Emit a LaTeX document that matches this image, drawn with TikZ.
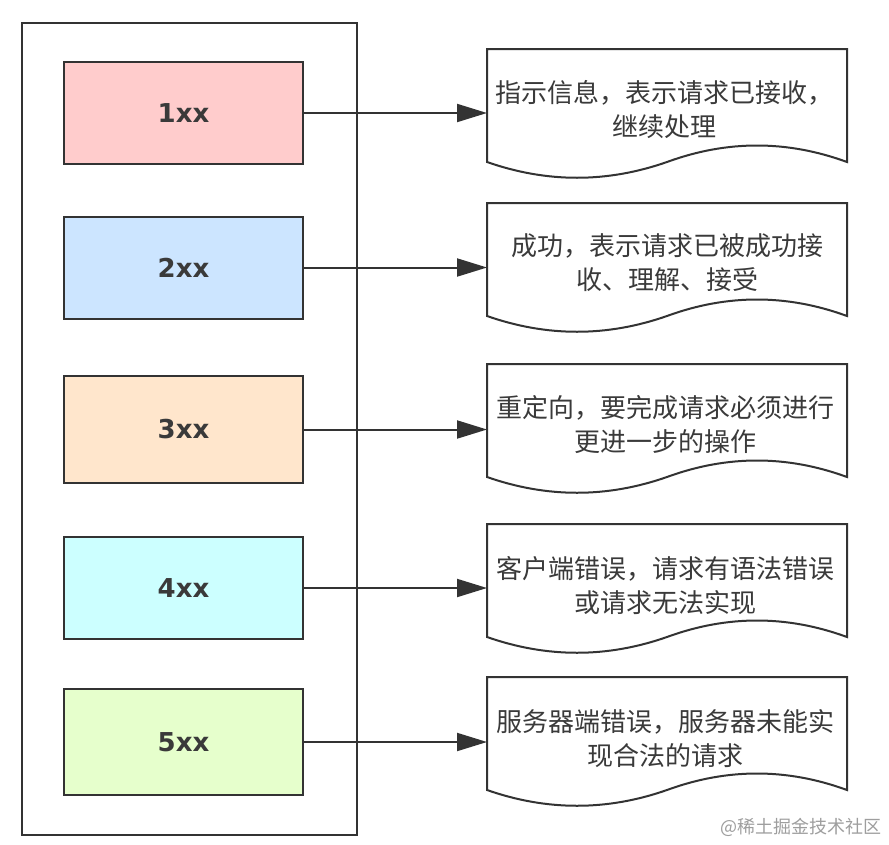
\documentclass[tikz,border=0pt]{standalone}
\usepackage{fontspec}
\setmainfont{DejaVu Sans}
\newfontfamily\cjk{Noto Sans CJK SC}
\newfontfamily\lbl{DejaVu Sans}
\usetikzlibrary{arrows.meta}
\definecolor{ink}{HTML}{333333}
\definecolor{txt}{HTML}{3A3A3A}
\definecolor{c1}{HTML}{FFCCCC}
\definecolor{c2}{HTML}{CCE5FF}
\definecolor{c3}{HTML}{FFE6CC}
\definecolor{c4}{HTML}{CCFFFF}
\definecolor{c5}{HTML}{E6FFCC}
\tikzset{
  codebox/.style={draw=ink, line width=2pt, minimum width=239pt, minimum height=102pt, inner sep=0pt,
    font=\lbl\bfseries\fontsize{26}{30}\selectfont, text=txt},
  doctext/.style={align=center, font=\cjk\fontsize{26}{34}\selectfont, text=txt, inner sep=0pt},
  docshape/.style={draw=ink, line width=2pt, fill=white, line join=miter},
  link/.style={draw=ink, line width=2pt, -{Triangle[length=30pt,width=18pt]}},
}
\newcommand{\docshape}[2]{% #1 top y, #2 name
  \draw[docshape] (487,#1) -- (847,#1) -- (847,#1+113)
    .. controls (787,#1+113-22) and (727,#1+113-22) .. (667,#1+113)
    .. controls (607,#1+113+21) and (547,#1+113+21) .. (487,#1+113) -- cycle;
  \coordinate (#2) at (487,#1+66);
}
\begin{document}
\begin{tikzpicture}[x=1pt,y=-1pt]
\useasboundingbox (0,0) rectangle (889,844);
\fill[white] (0,0) rectangle (889,844);
\draw[ink, line width=2pt] (22,23) rectangle (357,835);
% code boxes
\node[codebox, fill=c1] (b1) at (183.5,113) {1xx};
\node[codebox, fill=c2] (b2) at (183.5,267.5) {2xx};
\node[codebox, fill=c3, minimum height=107pt] (b3) at (183.5,429.5) {3xx};
\node[codebox, fill=c4] (b4) at (183.5,588) {4xx};
\node[codebox, fill=c5, minimum height=106pt] (b5) at (183.5,742) {5xx};
% documents
\docshape{49}{d1}
\docshape{203}{d2}
\docshape{364}{d3}
\docshape{524}{d4}
\docshape{677}{d5}
\node[doctext] (t1) at (664,110) {指示信息，表示请求已接收，\\继续处理};
\node[doctext] (t2) at (667,263) {成功，表示请求已被成功接\\收、理解、接受};
\node[doctext] (t3) at (665,425) {重定向，要完成请求必须进行\\更进一步的操作};
\node[doctext] (t4) at (665,586) {客户端错误，请求有语法错误\\或请求无法实现};
\node[doctext] (t5) at (665,739) {服务器端错误，服务器未能实\\现合法的请求};
% connectors
\draw[link] (b1.east) -- (b1.east -| d1);
\draw[link] (b2.east) -- (b2.east -| d2);
\draw[link] (b3.east) -- (b3.east -| d3);
\draw[link] (b4.east) -- (b4.east -| d4);
\draw[link] (b5.east) -- (b5.east -| d5);
% watermark
\node[font=\cjk\fontsize{18}{20}\selectfont, text=black!38, anchor=east, inner sep=0pt] (wm) at (882,827) {@稀土掘金技术社区};
\end{tikzpicture}
\end{document}
